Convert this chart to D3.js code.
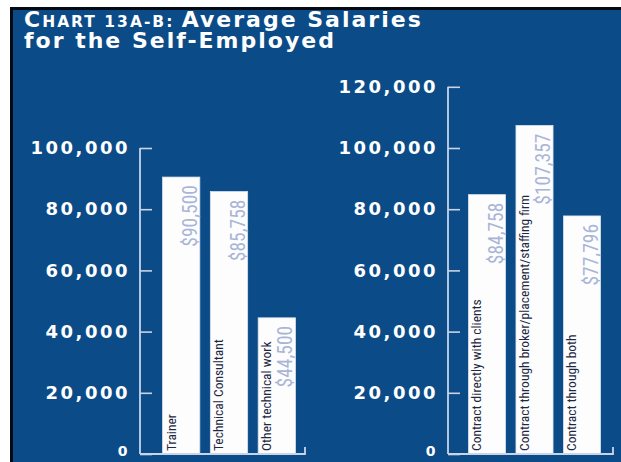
<!DOCTYPE html>
<html>
<head>
<meta charset="utf-8">
<script src="https://cdn.jsdelivr.net/npm/d3@7"></script>
<style>
  body { margin: 0; background: #fff; }
  svg { display: block; }
  .tick_label { font-family: "DejaVu Sans", sans-serif; font-weight: bold; font-size: 18px; letter-spacing: 2.5px; fill: #fff; }
  .cat_label { font-family: "Liberation Sans Narrow", "Roboto Condensed", "Arial Narrow", sans-serif; font-size: 13.5px; fill: #1c2742; }
  .val_label { font-family: "Liberation Sans Narrow", "Roboto Condensed", "Arial Narrow", sans-serif; font-size: 19.5px; fill: #a9b5d6; }
  .title { font-family: "DejaVu Sans", sans-serif; font-weight: bold; fill: #fff; letter-spacing: 2px; }
</style>
</head>
<body>
<div id="vis"></div>
<script>
// chart 13A (left panel)
var left_categories = ["Trainer", "Technical Consultant", "Other technical work"];
var left_values = [90500, 85758, 44500];
var left_ticks = [0, 20000, 40000, 60000, 80000, 100000];

// chart 13B (right panel)
var right_categories = ["Contract directly with clients", "Contract through broker/placement/staffing firm", "Contract through both"];
var right_values = [84758, 107357, 77796];
var right_ticks = [0, 20000, 40000, 60000, 80000, 100000, 120000];

var width = 621
var height = 462

var svg = d3.select("#vis")
    .append("svg")
    .attr("width", width)
    .attr("height", height)

// frame
svg.append("rect")
    .attr("x", 10).attr("y", 7)
    .attr("width", width - 10).attr("height", height - 7)
    .attr("fill", "#050a12")
svg.append("rect")
    .attr("x", 13).attr("y", 10)
    .attr("width", width - 13).attr("height", height - 10)
    .attr("fill", "#0b4b87")

// title
var t1 = svg.append("text").attr("class", "title").attr("x", 24).attr("y", 27)
t1.append("tspan").attr("font-size", 22).text("C")
t1.append("tspan").attr("font-size", 15.5).text("HART 13A-B: ")
t1.append("tspan").attr("font-size", 22).text("Average Salaries")
svg.append("text").attr("class", "title").attr("x", 24).attr("y", 48)
    .attr("font-size", 22)
    .text("for the Self-Employed")

var yScale = d3.scaleLinear()
    .domain([0, 120000])
    .range([454, 454 - 367.2]);

function draw_panel(categories, values, ticks, axis_x, band_range, end_x) {
    var g = svg.append("g")

    var xScale = d3.scaleBand()
        .domain(categories)
        .range(band_range)
        .paddingInner(0.22)
        .paddingOuter(0.22);

    // bars
    g.selectAll("rect.bar")
        .data(values)
        .enter()
        .append("rect")
        .attr("class", "bar")
        .attr("x", function(d, i) { return xScale(categories[i]); })
        .attr("y", function(d) { return yScale(d); })
        .attr("width", xScale.bandwidth())
        .attr("height", function(d) { return yScale(0) - yScale(d); })
        .attr("fill", "#fdfdfe")
        .attr("stroke", "#d9e2ef")
        .attr("stroke-width", 0.8)

    // category names, reading upward from the bottom
    g.selectAll("text.cat_label")
        .data(categories)
        .enter()
        .append("text")
        .attr("class", "cat_label")
        .attr("text-anchor", "start")
        .attr("transform", function(d) {
            return "translate(" + (xScale(d) + 13) + "," + (yScale(0) - 3) + ") rotate(-90)";
        })
        .text(function(d) { return d; })

    // dollar values under the bar top
    g.selectAll("text.val_label")
        .data(values)
        .enter()
        .append("text")
        .attr("class", "val_label")
        .attr("text-anchor", "end")
        .attr("transform", function(d, i) {
            return "translate(" + (xScale(categories[i]) + xScale.bandwidth() - 3) + "," + (yScale(d) + 8) + ") rotate(-90)";
        })
        .text(function(d) { return "$" + d3.format(",")(d); })

    // axis
    var yAxis = d3.axisLeft(yScale)
        .tickValues(ticks)
        .tickSizeInner(-12)
        .tickSizeOuter(0)
        .tickPadding(10)
        .tickFormat(d3.format(","))

    var ax = g.append("g")
        .attr("transform", "translate(" + axis_x + ",0)")
        .call(yAxis)
    ax.selectAll(".domain").remove()
    ax.selectAll(".tick line")
        .attr("stroke", "#c8d5e8")
        .attr("stroke-width", 1.6)
    ax.selectAll(".tick text")
        .attr("class", "tick_label")
        .attr("font-size", null)
        .attr("font-family", null)
        .attr("fill", null)
    // the zero is a small old-style figure sitting on the baseline
    ax.selectAll(".tick text")
        .filter(function(d) { return d === 0; })
        .style("font-size", "14px")
        .attr("dy", "0.1em")

    var line_color = "#c8d5e8"
    g.append("line")
        .attr("x1", axis_x).attr("x2", axis_x)
        .attr("y1", yScale(d3.max(ticks))).attr("y2", yScale(0))
        .attr("stroke", line_color).attr("stroke-width", 1.8)
    g.append("path")
        .attr("d", "M" + axis_x + "," + yScale(0) + "H" + end_x + "V" + (yScale(0) - 7))
        .attr("fill", "none")
        .attr("stroke", line_color).attr("stroke-width", 1.8)
}

draw_panel(left_categories, left_values, left_ticks, 140, [152, 306], 305)
draw_panel(right_categories, right_values, right_ticks, 448, [458, 611], 613)
</script>
</body>
</html>
